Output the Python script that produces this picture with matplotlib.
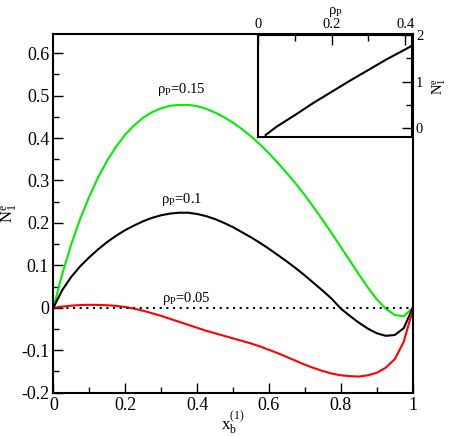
import matplotlib
matplotlib.use("Agg")
import matplotlib.pyplot as plt
from matplotlib.ticker import MultipleLocator

plt.rcParams['font.family'] = ['Liberation Serif', 'DejaVu Serif']
plt.rcParams['mathtext.fontset'] = 'custom'
plt.rcParams['mathtext.rm'] = 'Liberation Serif'
plt.rcParams['mathtext.it'] = 'Liberation Serif:italic'
plt.rcParams['mathtext.default'] = 'regular'

# x_b^(1) grid
xb = [0, 0.025, 0.05, 0.075, 0.1, 0.125, 0.15, 0.175, 0.2, 0.225, 0.25, 0.275,
      0.3, 0.325, 0.35, 0.375, 0.4, 0.425, 0.45, 0.475, 0.5, 0.525, 0.55, 0.575,
      0.6, 0.625, 0.65, 0.675, 0.7, 0.725, 0.75, 0.775, 0.8, 0.825, 0.85, 0.875,
      0.9, 0.925, 0.95, 0.975, 1.0]

# rho_P = 0.15 (green)
n_015 = [0, 0.080, 0.150, 0.210, 0.262, 0.308, 0.347, 0.380, 0.408, 0.430, 0.448,
         0.461, 0.470, 0.476, 0.478, 0.478, 0.475, 0.469, 0.460, 0.449, 0.436,
         0.421, 0.404, 0.385, 0.364, 0.341, 0.317, 0.292, 0.265, 0.236, 0.206,
         0.175, 0.143, 0.111, 0.079, 0.048, 0.020, -0.002, -0.017, -0.020, 0.0]
# rho_P = 0.1 (black)
n_010 = [0, 0.042, 0.073, 0.098, 0.119, 0.138, 0.155, 0.170, 0.183, 0.194, 0.204,
         0.212, 0.218, 0.222, 0.224, 0.224, 0.221, 0.216, 0.209, 0.200, 0.190,
         0.178, 0.166, 0.153, 0.139, 0.124, 0.109, 0.093, 0.076, 0.058, 0.040,
         0.021, -0.002, -0.019, -0.035, -0.049, -0.060, -0.066, -0.064, -0.048, 0.0]
# rho_P = 0.05 (red)
n_005 = [0, 0.003, 0.005, 0.0065, 0.007, 0.0068, 0.006, 0.0045, 0.002, -0.002,
         -0.007, -0.013, -0.019, -0.026, -0.033, -0.040, -0.047, -0.054, -0.060,
         -0.066, -0.072, -0.078, -0.084, -0.091, -0.099, -0.107, -0.116, -0.125,
         -0.134, -0.142, -0.149, -0.155, -0.159, -0.161, -0.162, -0.159, -0.153,
         -0.141, -0.121, -0.080, -0.005]

# inset: N_1^e vs rho_P
rho_in = [0.02, 0.05, 0.1, 0.15, 0.2, 0.25, 0.3, 0.35, 0.4, 0.418]
n_in = [-0.15, 0.03, 0.28, 0.54, 0.78, 1.02, 1.25, 1.48, 1.69, 1.77]

fig = plt.figure(figsize=(4.5, 4.36), dpi=100)
ax = fig.add_axes([0.1185, 0.0993, 0.7987, 0.8227])

ax.plot(xb, n_015, color='#00ee00', lw=1.5)
ax.plot(xb, n_010, color='black', lw=1.5)
ax.plot(xb, n_005, color='#ff0000', lw=1.5)
ax.plot([0, 1], [0, 0], color='black', lw=1.5, ls=(0, (1, 2.2)))

ax.set_xlim(0, 1)
ax.set_ylim(-0.2, 0.645)
ax.xaxis.set_minor_locator(MultipleLocator(0.1))
ax.yaxis.set_minor_locator(MultipleLocator(0.05))
ax.set_xticks([0, 0.2, 0.4, 0.6, 0.8, 1.0])
ax.set_xticklabels(['0', '0.2', '0.4', '0.6', '0.8', '1'])
ax.set_yticks([-0.2, -0.1, 0, 0.1, 0.2, 0.3, 0.4, 0.5, 0.6])
ax.set_yticklabels(['-0.2', '-0.1', '0', '0.1', '0.2', '0.3', '0.4', '0.5', '0.6'])
ax.tick_params(which='both', direction='in', top=False, right=False, labelsize=13, width=1, pad=3)
ax.tick_params(which='major', length=7)
ax.tick_params(which='minor', length=4)
for s in ax.spines.values():
    s.set_linewidth(1.5)

ax.set_xlabel(r'x$_{\mathrm{b}}^{(1)}$', fontsize=12, labelpad=-3)
ax.set_ylabel(r'N$_{\mathrm{1}}^{\mathrm{e}}$', fontsize=12, labelpad=1)

ax.text(0.356, 0.505, r'ρ$_{\mathrm{P}}$=0.15', fontsize=10.5, ha='center', va='baseline')
ax.text(0.357, 0.246, r'ρ$_{\mathrm{P}}$=0.1', fontsize=10.5, ha='center', va='baseline')
ax.text(0.369, 0.014, r'ρ$_{\mathrm{P}}$=0.05', fontsize=10.5, ha='center', va='baseline')

# inset
ins = fig.add_axes([0.574, 0.685, 0.341, 0.2346])
ins.plot(rho_in, n_in, color='black', lw=1.5)
ins.set_xlim(0, 0.418)
ins.set_ylim(-0.2, 2.0)
ins.set_xticks([0, 0.2, 0.4])
ins.set_xticklabels(['0', '0.2', '0.4'])
ins.xaxis.set_minor_locator(MultipleLocator(0.1))
ins.set_yticks([0, 1, 2])
ins.set_yticklabels(['0', '1', '2'])
ins.yaxis.set_minor_locator(MultipleLocator(0.5))
ins.xaxis.tick_top()
ins.xaxis.set_label_position('top')
ins.yaxis.tick_right()
ins.yaxis.set_label_position('right')
ins.tick_params(which='both', direction='in', labelsize=10.5, width=1, pad=3)
ins.tick_params(which='major', length=7)
ins.tick_params(which='minor', length=4)
for s in ins.spines.values():
    s.set_linewidth(1.5)
ins.set_xlabel(r'ρ$_{\mathrm{P}}$', fontsize=10.5, labelpad=3)
ins.set_ylabel(r'N$_{\mathrm{1}}^{\mathrm{e}}$', fontsize=10.5, labelpad=5, rotation=90)

fig.savefig('out.png', dpi=100)
